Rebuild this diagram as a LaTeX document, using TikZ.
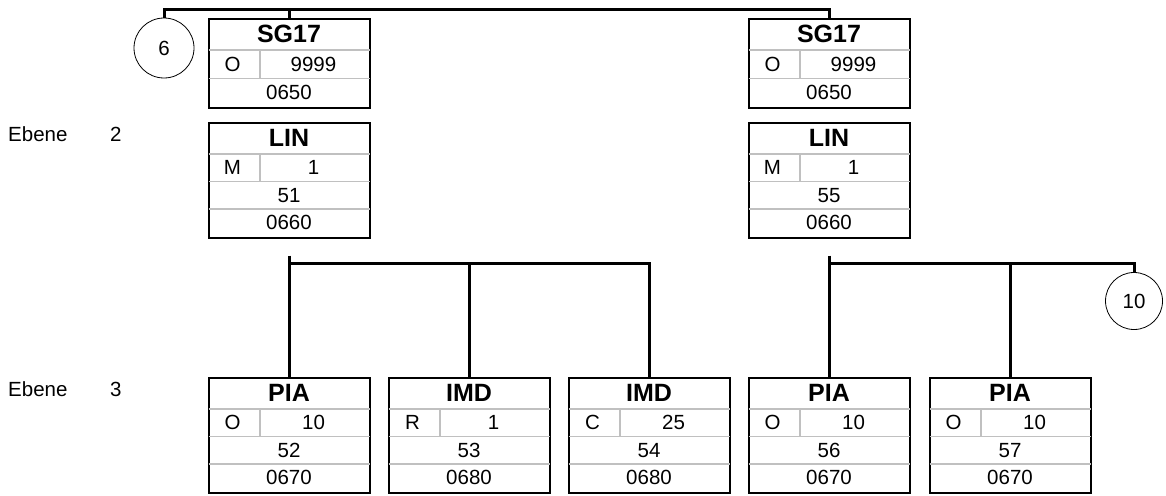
\documentclass[tikz,border=0pt]{standalone}
\usepackage{fontspec}
\setmainfont{Liberation Sans}
\usetikzlibrary{positioning,calc}
\definecolor{sepgrey}{RGB}{192,192,192}

\tikzset{
  tree/.style={line width=3pt},
  box/.style={draw, line width=2pt, minimum width=161pt, inner sep=0pt, anchor=north},
  sep/.style={sepgrey, line width=1.5pt},
  tag/.style={font=\fontsize{25}{29}\selectfont\bfseries, inner sep=0pt},
  cell/.style={font=\fontsize{20.5}{24}\selectfont, inner sep=0pt},
  ref/.style={draw, circle, line width=0.8pt, inner sep=0pt, font=\fontsize{20.5}{24}\selectfont},
}

% segment group: #1 name, #2 x, #3 top, #4 tag, #5 status, #6 repeat, #7 position
\newcommand{\groupbox}[7]{
  \node[box, minimum height=89pt] (#1) at (#2,#3) {};
  \node[tag] (#1-tag) at ([yshift=-16pt]#1.north) {#4};
  \draw[sep] ([xshift=1pt,yshift=-32pt]#1.north west) -- ([xshift=-1pt,yshift=-32pt]#1.north east);
  \draw[sep] ([xshift=1pt,yshift=-60.5pt]#1.north west) -- ([xshift=-1pt,yshift=-60.5pt]#1.north east);
  \draw[sep] ([xshift=52.5pt,yshift=-32pt]#1.north west) -- ([xshift=52.5pt,yshift=-60.5pt]#1.north west);
  \node[cell] (#1-st) at ([xshift=25pt,yshift=-46.25pt]#1.north west) {#5};
  \node[cell] (#1-rep) at ([xshift=106pt,yshift=-46.25pt]#1.north west) {#6};
  \node[cell] (#1-pos) at ([yshift=-74.75pt]#1.north) {#7};
}

% segment: #1 name, #2 x, #3 top, #4 tag, #5 status, #6 repeat, #7 number, #8 position
\newcommand{\segbox}[8]{
  \node[box, minimum height=114.5pt] (#1) at (#2,#3) {};
  \node[tag] (#1-tag) at ([yshift=-16pt]#1.north) {#4};
  \draw[sep] ([xshift=1pt,yshift=-32pt]#1.north west) -- ([xshift=-1pt,yshift=-32pt]#1.north east);
  \draw[sep] ([xshift=1pt,yshift=-59.5pt]#1.north west) -- ([xshift=-1pt,yshift=-59.5pt]#1.north east);
  \draw[sep] ([xshift=1pt,yshift=-87pt]#1.north west) -- ([xshift=-1pt,yshift=-87pt]#1.north east);
  \draw[sep] ([xshift=52.5pt,yshift=-32pt]#1.north west) -- ([xshift=52.5pt,yshift=-59.5pt]#1.north west);
  \node[cell] (#1-st) at ([xshift=25pt,yshift=-45.75pt]#1.north west) {#5};
  \node[cell] (#1-rep) at ([xshift=106pt,yshift=-45.75pt]#1.north west) {#6};
  \node[cell] (#1-nr) at ([yshift=-73.25pt]#1.north) {#7};
  \node[cell] (#1-pos) at ([yshift=-100.75pt]#1.north) {#8};
}

\begin{document}
\begin{tikzpicture}[x=1pt, y=1pt]
  \useasboundingbox (0,0) rectangle (1166,-495);

  % level labels
  \node[cell, anchor=west] (lvl2) at (8,-134) {Ebene};
  \node[cell, anchor=west] (lvl2-nr) at (110,-134) {2};
  \node[cell, anchor=west] (lvl3) at (8,-389) {Ebene};
  \node[cell, anchor=west] (lvl3-nr) at (110,-389) {3};

  % level 1 and 2
  \groupbox{sg1}{289}{-18}{SG17}{O}{9999}{0650}
  \groupbox{sg2}{829}{-18}{SG17}{O}{9999}{0650}
  \segbox{lin1}{289}{-122}{LIN}{M}{1}{51}{0660}
  \segbox{lin2}{829}{-122}{LIN}{M}{1}{55}{0660}

  % level 3
  \segbox{pia1}{289}{-377}{PIA}{O}{10}{52}{0670}
  \segbox{imd1}{469}{-377}{IMD}{R}{1}{53}{0680}
  \segbox{imd2}{649}{-377}{IMD}{C}{25}{54}{0680}
  \segbox{pia2}{829}{-377}{PIA}{O}{10}{56}{0670}
  \segbox{pia3}{1010}{-377}{PIA}{O}{10}{57}{0670}

  % page references
  \node[ref, minimum size=60pt] (c6) at (164,-48) {6};
  \node[ref, minimum size=57pt] (c10) at (1134,-301) {10};

  % tree lines
  \coordinate (top) at (0,-10);
  \coordinate (bar) at (0,-263);
  \coordinate (b1) at ([yshift=-17pt]lin1.south);
  \coordinate (b2) at ([yshift=-17pt]lin2.south);

  \draw[tree] (c6.north) |- (sg2.north |- top) -- (sg2.north);
  \draw[tree] (sg1.north |- top) -- (sg1.north);

  \draw[tree] (b1) -- (pia1.north);
  \draw[tree] (pia1.north |- bar) -| (imd2.north);
  \draw[tree] (imd1.north |- bar) -- (imd1.north);

  \draw[tree] (b2) -- (pia2.north);
  \draw[tree] (pia2.north |- bar) -| (c10.north);
  \draw[tree] (pia3.north |- bar) -- (pia3.north);
\end{tikzpicture}
\end{document}
